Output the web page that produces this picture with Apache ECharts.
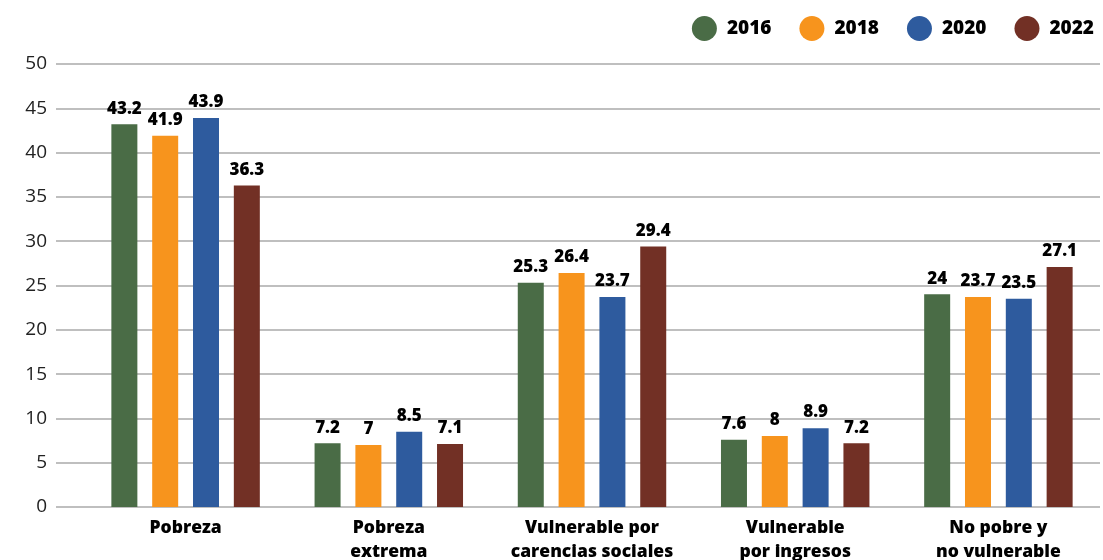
<!DOCTYPE html>
<html><head><meta charset="utf-8">
<script src="https://cdn.jsdelivr.net/npm/echarts@6/dist/echarts.min.js"></script>
<style>html,body{margin:0;padding:0;background:#fff}#c{width:1103px;height:560px}</style>
</head><body><div id="c"></div>
<script>
const categories = ["Pobreza", "Pobreza\nextrema", "Vulnerable por\ncarencias sociales", "Vulnerable\npor ingresos", "No pobre y\nno vulnerable"];
const years = ["2016", "2018", "2020", "2022"];
const v2016 = [43.2, 7.2, 25.3, 7.6, 24];
const v2018 = [41.9, 7, 26.4, 8, 23.7];
const v2020 = [43.9, 8.5, 23.7, 8.9, 23.5];
const v2022 = [36.3, 7.1, 29.4, 7.2, 27.1];
const yTicks = [0, 50, 5];
const colors = ["#4a6c46", "#f7941d", "#2e5b9e", "#723025"];
const seriesData = [v2016, v2018, v2020, v2022];

const font = "Open Sans";
const chart = echarts.init(document.getElementById('c'), null, {renderer: 'canvas'});
chart.setOption({
  animation: false,
  textStyle: {fontFamily: font},
  legend: {
    data: years, right: 4, top: 11, icon: 'circle', itemWidth: 25, itemHeight: 25, itemGap: 28,
    textStyle: {fontSize: 19, fontWeight: 800, color: '#000', fontFamily: font, padding: [0, 0, 0, 5]}
  },
  grid: [
    {left: 56, right: 3, top: 64, bottom: 53, outerBoundsMode: 'none', containLabel: false},
    {left: 84, right: 3, top: 64, bottom: 53, outerBoundsMode: 'none', containLabel: false}
  ],
  xAxis: [
    {gridIndex: 0, type: 'category', data: categories, show: false},
    {gridIndex: 1, type: 'category', data: categories,
     axisLine: {show: false}, axisTick: {show: false},
     axisLabel: {interval: 0, margin: 9, fontSize: 17.5, fontWeight: 800, color: '#000', lineHeight: 24, fontFamily: font}}
  ],
  yAxis: [
    {gridIndex: 0, type: 'value', min: yTicks[0], max: yTicks[1], interval: yTicks[2],
     axisLine: {show: false}, axisTick: {show: false},
     axisLabel: {fontSize: 19, color: '#222', margin: 9, fontFamily: font},
     splitLine: {lineStyle: {color: '#bfbfbf', width: 2}}},
    {gridIndex: 1, type: 'value', min: yTicks[0], max: yTicks[1], interval: yTicks[2], show: false}
  ],
  series: years.map((y, i) => ({
    name: y, type: 'bar', xAxisIndex: 1, yAxisIndex: 1,
    data: seriesData[i], barWidth: 26, barGap: '57%',
    itemStyle: {color: colors[i]},
    label: {show: true, position: 'top', distance: 7, fontSize: 17, fontWeight: 800, color: '#000', fontFamily: font}
  }))
});
</script></body></html>
